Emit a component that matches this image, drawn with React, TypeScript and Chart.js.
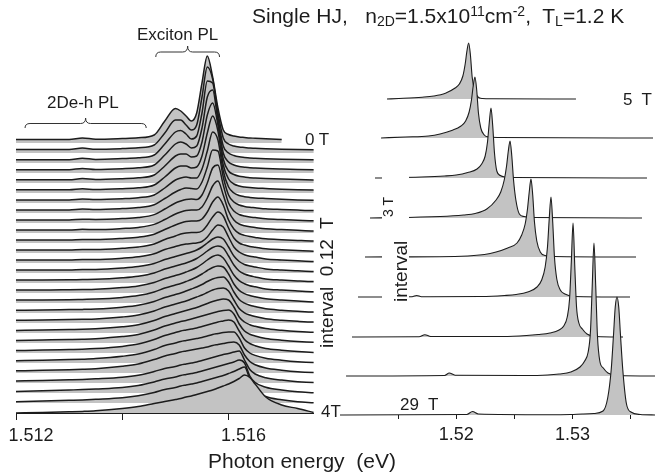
import React, { useEffect, useRef } from "react";
import { Chart, registerables } from "chart.js";

Chart.register(...registerables);

const FONT = "'Liberation Sans', Arial, Helvetica, sans-serif";
const INK = "#1c1c1c";
const FILL = "#c3c3c3";

// ---------- Left panel (0 T ... 4 T, interval 0.12 T) ----------
const leftTicks = [1.512, 1.514, 1.516];
const leftTickLabels = ["1.512", "", "1.516"];
const leftEnergy = [
  1.512, 1.5125, 1.513, 1.51325, 1.5135, 1.514, 1.5143, 1.5146, 1.5148, 1.515,
  1.5151, 1.5152, 1.5153, 1.5154, 1.5155, 1.5156, 1.5157, 1.5158, 1.5159, 1.516,
  1.5161, 1.5162, 1.5163, 1.5164, 1.5165, 1.5167, 1.517, 1.5173, 1.5176,
];
const leftOffsets = [
  270, 260, 250, 240, 230, 220, 210, 200, 190, 180, 170, 160, 150, 140,
  130, 120, 110, 100, 90, 80, 70, 60, 50, 40, 30, 20, 10, 0,
];
const leftEnds = [
  1.517, 1.518, 1.518, 1.518, 1.518, 1.518, 1.518, 1.518, 1.518, 1.518,
  1.518, 1.518, 1.518, 1.518, 1.518, 1.518, 1.518, 1.518, 1.518, 1.518,
  1.518, 1.518, 1.518, 1.518, 1.518, 1.5176, 1.5176, 1.5176,
];
const leftEndValues = [
  3.4, 3.2, 3.1, 3.0, 2.9, 2.8, 2.6, 2.2, 2.0, 1.9, 1.8, 1.6, 1.4, 1.3,
  1.2, 1.0, 0.9, 0.8, 0.7, 0.6, 0.5, 0.4, 0.3, 0.3, 0.3, 0.3, 0.2, 0.5,
];
const leftIntensity: number[][] = [
  [3.5,3.5,3.5,5,3.8,4.5,5.2,8,22,34.5,32,27,22,30,60,87,66,35,13,8.5,7,6,5.5,5,4.8,4.2,3.5,3.4,3.3],
  [3.4,3.4,3.4,4.9,3.7,4.4,5.2,8,20,33,33,28,23,28,56,86,74,40,15,9,7,6,5.5,5,4.8,4.3,3.8,3.5,3.3],
  [3.3,3.3,3.3,4.8,3.6,4.4,5.2,8,19,31,32.5,29,24,27,50,82,80,45,17,10,7.5,6.2,5.6,5.1,4.8,4.3,3.8,3.5,3.3],
  [3.3,3.3,3.3,4.6,3.6,4.3,5.2,8,18,29,31,29,25,27,45,76,83,52,20,11,8,6.5,5.8,5.2,4.9,4.4,3.9,3.5,3.2],
  [3.2,3.2,3.2,4.4,3.5,4.3,5.2,8,17,27,29,29,26,27,41,68,80,58,24,12,8.5,6.8,6,5.3,5,4.5,3.9,3.4,3.1],
  [3.2,3.2,3.2,4.2,3.5,4.3,5.2,8,16,25,27,27,25,26,37,60,77,62,28,14,9,7,6,5.4,5,4.5,3.8,3.3,3.0],
  [3.1,3.1,3.1,4,3.5,4.3,5.3,8,15,23,25,26,25,25,34,52,71,63,32,16,10,7.5,6.3,5.6,5.1,4.5,3.7,3.1,2.8],
  [3.1,3.1,3.1,3.9,3.5,4.4,5.4,8.2,14.5,21,23.5,25,24.5,24,31,46,63,62,36,18,11,8,6.6,5.8,5.3,4.2,3.5,2.9,2.4],
  [3,3,3,3.8,3.5,4.4,5.5,8.4,14,20,22,23.5,24,23.5,28,40,55,58,38,20,12,8.5,7,6,5.4,4.2,3.4,2.8,2.2],
  [3,3,3,3.7,3.5,4.5,5.6,8.6,13.5,19,21,22.5,23,23,26,35,47,52,38,22,13,9,7.3,6.2,5.5,4.2,3.4,2.7,2.1],
  [3,3,3,3.6,3.5,4.6,5.8,8.8,13.5,18,20,21.5,22,22,24,31,41,46,38,23,14,9.5,7.6,6.4,5.6,4.2,3.3,2.6,2.0],
  [3,3,3,3.5,3.5,4.7,6,9,13.5,17,19,20,20.5,20.5,22,28,36,41,37,25,15,10,8,6.6,5.8,4.2,3.2,2.5,1.8],
  [3,3,3,3.5,3.5,4.8,6.2,9.2,13.5,16.5,18,19,19.5,20,21.5,26,33,38,36,26,16,11,8.3,6.8,5.9,4.1,3.1,2.3,1.6],
  [3,3,3.1,3.5,3.6,5,6.5,9.5,13.5,16.5,18,19.5,21,23,26,30,34,36,34,26,17,11.5,8.5,7,6,4.1,3,2.2,1.5],
  [3,3,3.2,3.5,3.7,5.2,6.8,10,14,17,18.5,20,22,24.5,28,32,35.5,37,35,27,18,12,9,7.2,6.1,4.1,3,2.1,1.4],
  [3,3,3.3,3.5,3.8,5.4,7.1,10.5,14.5,17.5,19,21,23,25.5,29,33,36.5,38,35,27,18,12.3,9.2,7.3,6.2,4.1,2.9,2,1.2],
  [2.9,3,3.3,3.6,3.9,5.6,7.4,11,15,18,19.5,21.5,23.5,26,29,32.5,35.5,37,36,29,19,12.6,9.4,7.5,6.3,4.2,2.9,1.9,1.1],
  [2.8,3,3.4,3.6,4,5.8,7.7,11.5,15.5,18.5,20,22,24,26,28.5,31.5,34,35.5,36,31,21,13.5,9.8,7.7,6.4,4.2,2.8,1.8,1],
  [2.7,3,3.4,3.7,4.1,6,8,12,16,19,20.5,22,24,26,28,30.5,33,34.5,35,32,23,14.5,10.2,8,6.5,4.3,2.8,1.7,0.9],
  [2.6,3,3.5,3.7,4.2,6.2,8.3,12.5,16.5,19.5,21,22.5,24,25.5,27.5,29.5,31.5,33,34,33,26,16,11,8.3,6.7,4.4,2.8,1.6,0.8],
  [2.5,3,3.5,3.8,4.3,6.4,8.6,13,17,20,21.5,22.5,24,25.5,27,28.5,30,31.5,32.5,33,29,19,12,8.8,7,4.5,2.8,1.5,0.7],
  [2.4,2.9,3.5,3.8,4.4,6.6,8.9,13.5,17.5,20.5,22,23,24,25,26.5,28,29.5,31,32,33,31,22,13.5,9.5,7.3,4.6,2.8,1.4,0.6],
  [2.3,2.8,3.4,3.8,4.4,6.7,9,13.5,17.5,20,21.5,22.5,23.5,24.5,25.5,27,28.5,29.5,30.5,31,31,25,15,10,7.6,4.8,2.8,1.3,0.5],
  [2.2,2.7,3.3,3.7,4.3,6.7,9,13.5,17,19.5,21,22,23,24,25,26,27.5,28.5,29.5,30.5,31,28,18,11.5,8.2,5,2.8,1.2,0.5],
  [2,2.5,3.2,3.6,4.2,5.8,7.8,11.5,14.5,16.5,18,19,20,21,22.5,24,25.5,27,28.5,29.5,31,32,23,13.5,9,5.3,2.9,1.2,0.4],
  [1.6,2.2,3,3.4,4,5.5,7.5,11,14,16,17.5,18.5,19.5,20.5,22,23.5,25,26.5,28,29.5,31,33,30,17,10.5,5.8,3,1.2,0.3],
  [1.2,1.9,2.7,3.1,3.7,5.2,7.2,10.5,13.5,15.5,17,18,19,20,21.5,23,24.5,26,27.5,29.5,31.5,34,36,24,13,6.5,3.2,1.2,0.2],
  [0,0.5,1.2,1.6,2.2,4.5,6.5,9.5,11.5,13.5,14.5,16,17,18.5,20,21.5,23,25,27,29,31.5,34.5,38,35.5,29,16,8,4.5,0.5],
];
// braces (energy span, level in y units)
const braceStart = [1.51463, 1.51217];
const braceEnd = [1.51583, 1.51445];
const braceBase = [356, 285];
const braceTip = [367, 295];

// ---------- Right panel (5 T ... 29 T, interval 3 T) ----------
const rightTicks = [1.515, 1.52, 1.525, 1.53, 1.535];
const rightTickLabels = ["", "1.52", "", "1.53", ""];
const rightFields = [5, 8, 11, 14, 17, 20, 23, 26, 29];
const rightOffsets = [316, 277, 237, 197, 158, 118, 78, 39, 0];
const rightPeakE = [1.52107, 1.52161, 1.52299, 1.52463, 1.52643, 1.52815, 1.53005, 1.53185, 1.53383];
const rightStartE = [1.51404, 1.51353, 1.51301, 1.51258, 1.51215, 1.51155, 1.51103, 1.51052, 1.5099];
const rightEndE = [1.5303, 1.53693, 1.53641, 1.53598, 1.53547, 1.53495, 1.53435, 1.5372, 1.5372];
const rightRel = [-0.006, -0.004, -0.003, -0.002, -0.0012, -0.0008, -0.0005, -0.0003, -0.00015, 0, 0.00015, 0.0003, 0.0005, 0.0008, 0.0012, 0.002];
const rightIntensity: number[][] = [
  [0.5,1.8,3,5.8,10.7,15,23,35,48,56,44,22,9,2,0.5,0.2],
  [1,2,4,7.5,12,17,26,38,52,61,48,25,10,3,1,0.5],
  [1,2,3,5.5,9,14,22,36,55,70,52,25,7,2.5,1,0.5],
  [1.5,3,4.5,9,18,26,38,52,67,77,62,38,18,4,1.5,0.5],
  [0.8,2.5,5,9,14,22,33,48,65,78,62,35,16,5,1.5,0.5],
  [0.5,1.5,2.5,5,10,17,30,50,78,100,75,40,18,7,3,0.5],
  [0.5,1.5,2.5,4,7,11,20,38,75,114,70,30,14,8,3,0.5],
  [0.5,1,2,4,9,15,24,45,90,133,90,40,15,8,3,0.5],
  [0.3,0.5,1,1.5,4,17,45,80,108,118,108,80,45,12,3,0.5],
];
const rightLowE: number[][] = [[], [], [], [], [], [1.5162, 1.5166, 1.517], [1.5168, 1.5173, 1.5178], [1.519, 1.5194, 1.5199], [1.5209, 1.5214, 1.5219]];
const rightLowI: number[][] = [[], [], [], [], [], [0.3, 1.5, 0.3], [0.3, 2.3, 0.5], [0.5, 3, 0.8], [0.5, 3.5, 1]];

function leftDatasets() {
  return leftIntensity.map((vals, k) => {
    const off = leftOffsets[k];
    const pts: { x: number; y: number }[] = [];
    leftEnergy.forEach((e, i) => {
      if (e <= leftEnds[k] + 1e-9) pts.push({ x: e, y: off + vals[i] });
    });
    if (leftEnds[k] > pts[pts.length - 1].x + 1e-9) pts.push({ x: leftEnds[k], y: off + leftEndValues[k] });
    return {
      data: pts,
      order: leftIntensity.length - 1 - k,
      borderColor: INK,
      borderWidth: 1.5,
      backgroundColor: FILL,
      fill: { value: off },
      pointRadius: 0,
      cubicInterpolationMode: "monotone" as const,
      clip: false as const,
    };
  });
}

function rightDatasets() {
  return rightFields.map((_f, j) => {
    const off = rightOffsets[j];
    const pts: { x: number; y: number }[] = [{ x: rightStartE[j], y: off }];
    rightLowE[j].forEach((e, i) => pts.push({ x: e, y: off + rightLowI[j][i] }));
    rightRel.forEach((d, i) => pts.push({ x: rightPeakE[j] + d, y: off + rightIntensity[j][i] }));
    pts.push({ x: rightEndE[j], y: off });
    return {
      data: pts,
      order: rightFields.length - 1 - j,
      borderColor: INK,
      borderWidth: 1.1,
      backgroundColor: FILL,
      fill: { value: off },
      pointRadius: 0,
      cubicInterpolationMode: "monotone" as const,
      clip: false as const,
    };
  });
}

const bracePlugin = {
  id: "braces",
  afterDatasetsDraw(chart: any) {
    const { ctx, scales } = chart;
    const xs = scales.x;
    const ys = scales.y;
    ctx.save();
    ctx.strokeStyle = "#333";
    ctx.lineWidth = 1;
    braceStart.forEach((s, i) => {
      const x0 = xs.getPixelForValue(s);
      const x1 = xs.getPixelForValue(braceEnd[i]);
      const xm = (x0 + x1) / 2;
      const yb = ys.getPixelForValue(braceBase[i]);
      const yt = ys.getPixelForValue(braceTip[i]);
      const ya = (yb + yt) / 2 + 0.5;
      const r = 5;
      ctx.beginPath();
      ctx.moveTo(x0, yb);
      ctx.quadraticCurveTo(x0, ya, x0 + r, ya);
      ctx.lineTo(xm - r, ya);
      ctx.quadraticCurveTo(xm, ya, xm, yt);
      ctx.quadraticCurveTo(xm, ya, xm + r, ya);
      ctx.lineTo(x1 - r, ya);
      ctx.quadraticCurveTo(x1, ya, x1, yb);
      ctx.stroke();
    });
    ctx.restore();
  },
};

function xAxis(min: number, max: number, ticks: number[], labels: string[], tickLen: number, labelOffset: number, height: number, border: boolean) {
  return {
    type: "linear" as const,
    min,
    max,
    afterBuildTicks: (axis: any) => {
      axis.ticks = ticks.map((v) => ({ value: v }));
    },
    afterFit: (axis: any) => {
      axis.height = height;
      axis.paddingLeft = 0;
      axis.paddingRight = 0;
    },
    ticks: {
      autoSkip: false,
      maxRotation: 0,
      minRotation: 0,
      padding: 5,
      labelOffset,
      color: INK,
      font: { family: FONT, size: 18 },
      callback: (_v: any, i: number) => labels[i],
    },
    grid: { drawOnChartArea: false, drawTicks: true, tickLength: tickLen, tickColor: INK, color: INK },
    border: { display: border, color: INK, width: 1 },
  };
}

function Txt({ x, base, size, children }: any) {
  return (
    <div
      style={{
        position: "absolute",
        left: x,
        top: base - 0.8465 * size,
        fontSize: size,
        lineHeight: `${size}px`,
        whiteSpace: "pre",
        fontFamily: FONT,
        color: INK,
      }}
    >
      {children}
    </div>
  );
}

function VTxt({ x, y, size, children }: any) {
  return (
    <div style={{ position: "absolute", left: x, top: y, width: 0, height: 0 }}>
      <div
        style={{
          position: "absolute",
          left: 0,
          top: 0,
          fontSize: size,
          lineHeight: `${size}px`,
          whiteSpace: "pre",
          fontFamily: FONT,
          color: INK,
          transformOrigin: "0 0",
          transform: `rotate(-90deg) translateY(${-0.8465 * size}px)`,
        }}
      >
        {children}
      </div>
    </div>
  );
}

const Sub = ({ children }: any) => (
  <span style={{ fontSize: 14, position: "relative", top: 3.5, lineHeight: 0 }}>{children}</span>
);
const Sup = ({ children }: any) => (
  <span style={{ fontSize: 14, position: "relative", top: -7, lineHeight: 0 }}>{children}</span>
);

export default function App() {
  const leftRef = useRef<HTMLCanvasElement>(null);
  const rightRef = useRef<HTMLCanvasElement>(null);

  useEffect(() => {
    document.body.style.margin = "0";
    const left = new Chart(leftRef.current!, {
      type: "line",
      data: { datasets: leftDatasets() as any },
      options: {
        responsive: false,
        animation: false,
        events: [],
        layout: { padding: { left: 16, right: 31.4, top: 13, bottom: 0 } },
        plugins: { legend: { display: false }, tooltip: { enabled: false } },
        scales: {
          x: xAxis(1.512, 1.5176, leftTicks, leftTickLabels, 7, 15, 63, true) as any,
          y: { display: false, min: 0, max: 400 },
        },
      },
      plugins: [bracePlugin],
    });
    const right = new Chart(rightRef.current!, {
      type: "line",
      data: { datasets: rightDatasets() as any },
      options: {
        responsive: false,
        animation: false,
        events: [],
        layout: { padding: { left: 0, right: 0, top: 15, bottom: 0 } },
        plugins: { legend: { display: false }, tooltip: { enabled: false } },
        scales: {
          x: xAxis(1.51, 1.5371, rightTicks, rightTickLabels, 4, 0, 61, false) as any,
          y: { display: false, min: 0, max: 400 },
        },
      },
    });
    return () => {
      left.destroy();
      right.destroy();
    };
  }, []);

  return (
    <div style={{ position: "relative", width: 655, height: 476, overflow: "hidden", background: "#fff" }}>
      <canvas ref={leftRef} width={345} height={476} style={{ position: "absolute", left: 0, top: 0 }} />
      <canvas ref={rightRef} width={315} height={476} style={{ position: "absolute", left: 340, top: 0 }} />
      <div style={{ position: "absolute", left: 318, top: 205, width: 21, height: 152, background: "#fff" }} />
      <div style={{ position: "absolute", left: 382, top: 172, width: 27, height: 132, background: "#fff" }} />
      <Txt x={252} base={22.5} size={21}>
        Single HJ,   n<Sub>2D</Sub>=1.5x10<Sup>11</Sup>cm<Sup>-2</Sup>,  T<Sub>L</Sub>=1.2 K
      </Txt>
      <Txt x={137} base={40} size={17}>Exciton PL</Txt>
      <Txt x={47} base={108} size={17}>2De-h PL</Txt>
      <Txt x={305} base={145} size={17}>0 T</Txt>
      <Txt x={321} base={417} size={17}>4T</Txt>
      <Txt x={623} base={105} size={17}>5  T</Txt>
      <Txt x={400} base={410} size={17}>29  T</Txt>
      <Txt x={208} base={468} size={21}>Photon energy  (eV)</Txt>
      <VTxt x={333} y={348} size={19}>interval  0.12  T</VTxt>
      <VTxt x={407} y={302} size={19}>interval</VTxt>
      <VTxt x={393} y={217} size={14}>3 T</VTxt>
    </div>
  );
}
